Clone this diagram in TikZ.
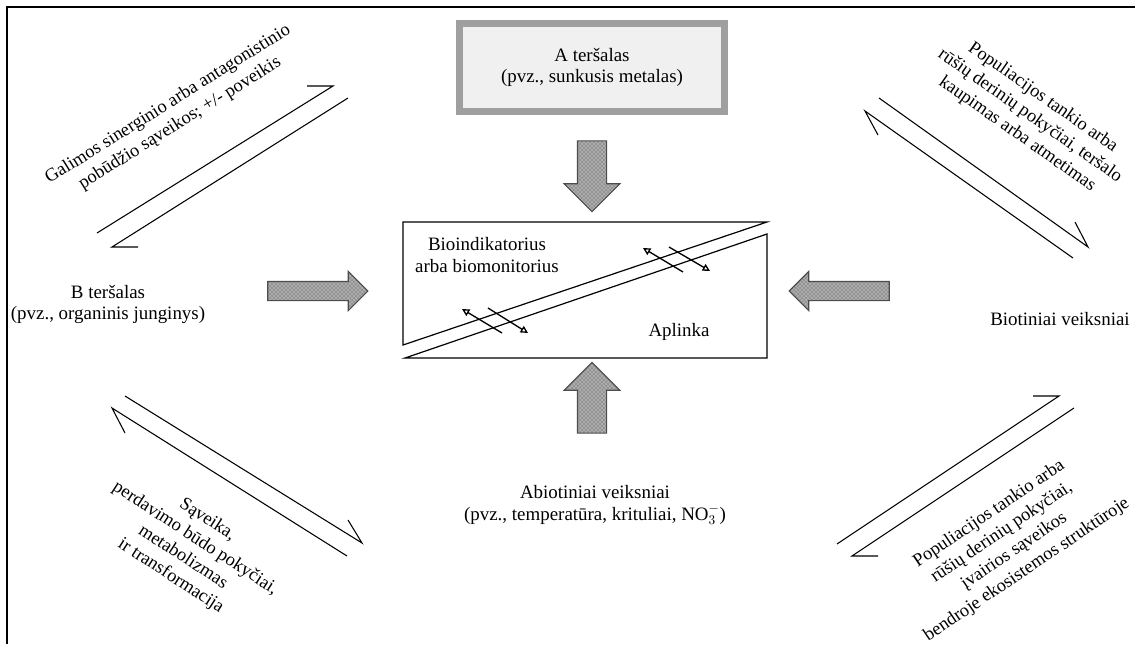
\documentclass[tikz,border=0pt]{standalone}
\usepackage{fontspec}
\setmainfont{Liberation Serif}
\usetikzlibrary{arrows.meta, shapes.arrows, patterns}

\begin{document}
\begin{tikzpicture}[x=0.75pt, y=-0.75pt,
	txt/.style={align=center, inner sep=1pt, font=\fontsize{14.2}{15.8}\selectfont},
	rottxt/.style={txt, font=\fontsize{13.8}{16.8}\selectfont},
	abox/.style={txt, draw=gray!75, line width=5pt, fill=gray!12,
		minimum width=199pt, minimum height=66pt},
	blockarrow/.style={single arrow, draw=black!70, line width=0.8pt,
		preaction={fill=gray!65}, pattern=crosshatch dots, pattern color=black!75,
		inner xsep=0pt, single arrow head indent=0pt},
	flat/.style={blockarrow, inner ysep=6.75pt, single arrow head extend=7.5pt, minimum height=75pt},
	tall/.style={blockarrow, inner ysep=10.5pt, single arrow head extend=10pt, minimum height=53pt},
	harp/.style={line width=0.8pt, line join=miter},
	twoway/.style={line width=1pt, -{Triangle[open, length=5.5pt, width=5.5pt]}}]
	\useasboundingbox (0,0) rectangle (1135,644);
	\draw[line width=2pt] (7,644) -- (7,7) -- (1135,7);

	% centre: bioindikatorius and aplinka
	\draw[line width=0.9pt] (403,222) -- (767,222) -- (403,345) -- cycle;
	\draw[line width=0.9pt] (405,358) -- (767,234) -- (767,358) -- cycle;
	\draw[twoway] (502,333) -- (462,309);
	\draw[twoway] (488,308) -- (528,333);
	\draw[twoway] (683,272) -- (643,248);
	\draw[twoway] (669,247) -- (710,271);
	\node[txt] (bioind) at (487,255) {Bioindikatorius\\arba biomonitorius};
	\node[txt] (aplinka) at (679,332) {Aplinka};

	% factors
	\node[abox] (terA) at (592,67.5) {A teršalas\\(pvz., sunkusis metalas)};
	\node[txt] (terB) at (108,304) {B teršalas\\(pvz., organinis junginys)};
	\node[txt] (biot) at (1060,319) {Biotiniai veiksniai};
	\node[txt] (abiot) at (595,505) {Abiotiniai veiksniai\\(pvz., temperatūra, krituliai, NO$_3^-$)};

	\node[flat] (arrB) at (313,291) {};
	\node[flat, rotate=180] (arrBiot) at (844,291) {};
	\node[tall, rotate=-90] (arrA) at (592,169) {};
	\node[tall, rotate=90] (arrAbiot) at (592,405) {};

	% interactions
	\draw[harp] (97,233) -- (333,86) -- ++(-26,0);
	\draw[harp] (348,98) -- (112,247) -- ++(26,0);
	\draw[harp] (879,98) -- (1088,247) -- (1075,222);
	\draw[harp] (1073,258) -- (865,111) -- (878,135);
	\draw[harp] (125,396) -- (362,543) -- (348,520);
	\draw[harp] (347,556) -- (112,408) -- (125,433);
	\draw[harp] (837,544) -- (1059,396) -- ++(-26,0);
	\draw[harp] (1074,408) -- (852,556) -- ++(26,0);

	\node[rottxt, rotate=32] (sinerg) at (174,114) {Galimos sinerginio arba antagonistinio\\pobūdžio sąveikos; +/- poveikis};
	\node[rottxt, rotate=-35] (popA) at (1030,116) {Populiacijos tankio arba\\rūšių derinių pokyčiai, teršalo\\kaupimas arba atmetimas};
	\node[rottxt, rotate=-33] (saveika) at (189,548) {Sąveika,\\perdavimo būdo pokyčiai,\\metabolizmas\\ir transformacija};
	\node[rottxt, rotate=34] (popB) at (1008,542) {Populiacijos tankio arba\\rūšių derinių pokyčiai,\\įvairios sąveikos\\bendroje ekosistemos struktūroje};
\end{tikzpicture}
\end{document}
